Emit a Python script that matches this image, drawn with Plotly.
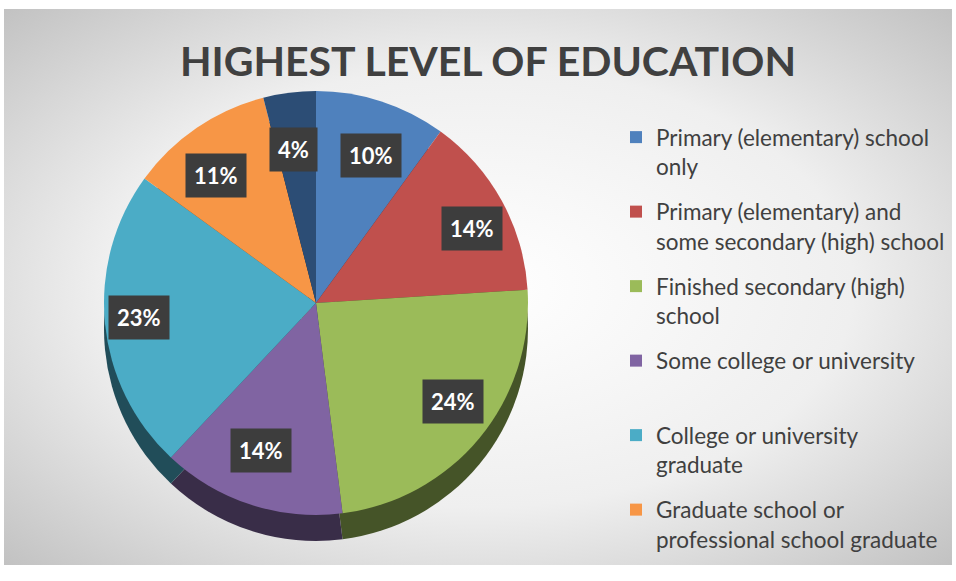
import base64, math
import plotly.graph_objects as go

# ---- data ----
categories = [
    "Primary (elementary) school only",
    "Primary (elementary) and some secondary (high) school",
    "Finished secondary (high) school",
    "Some college or university",
    "College or university graduate",
    "Graduate school or professional school graduate",
    "Other",
]
legend_labels = [
    "Primary (elementary) school<br>only",
    "Primary (elementary) and<br>some secondary (high) school",
    "Finished secondary (high)<br>school",
    "Some college or university<br> ",
    "College or university<br>graduate",
    "Graduate school or<br>professional school graduate",
]
values = [10, 14, 24, 14, 23, 11, 4]
colors = ["#4F81BD", "#C0504D", "#9BBB59", "#8064A2", "#4BACC6", "#F79646", "#2C4D75"]

W, H = 956, 581
ML, MR, MT, MB = 4, 4, 9, 16
PW, PH = W - ML - MR, H - MT - MB

def px_to_paper(x, y):
    return (x - ML) / PW, 1 - (y - MT) / PH

def darker(hexcol, f=0.45):
    h = hexcol.lstrip("#")
    r, g, b = (int(h[i:i + 2], 16) for i in (0, 2, 4))
    return "#%02x%02x%02x" % (int(r * f), int(g * f), int(b * f))

# pie geometry (pixels)
CX, CY, R, DEPTH = 316, 303, 212, 26

def domain(cx, cy, r):
    x0, y1 = px_to_paper(cx - r, cy - r)
    x1, y0 = px_to_paper(cx + r, cy + r)
    return dict(x=[x0, x1], y=[y0, y1])

fig = go.Figure()

# side (depth) of the pie
fig.add_trace(go.Pie(
    labels=categories, values=values, sort=False, direction="clockwise", rotation=0,
    marker=dict(colors=[darker(c) for c in colors], line=dict(width=0)),
    textinfo="none", hoverinfo="skip", showlegend=False,
    domain=domain(CX, CY + DEPTH, R),
))
# top face
fig.add_trace(go.Pie(
    labels=categories, values=values, sort=False, direction="clockwise", rotation=0,
    marker=dict(colors=colors, line=dict(width=0)),
    textinfo="none", showlegend=False,
    domain=domain(CX, CY, R),
))

# legend entries (6 shown as in reference)
for lbl, col in zip(legend_labels, colors[:6]):
    fig.add_trace(go.Scatter(
        x=[None], y=[None], mode="markers", name=lbl, legendgroup=lbl,
        marker=dict(symbol="square", size=12, color=col),
    ))

# percentage labels
total = sum(values)
cum = 0
for v in values:
    mid = (cum + v / 2) / total * 2 * math.pi
    cum += v
    rr = 0.73 * R
    x, y = CX + 1.15 * rr * math.sin(mid), CY - rr * math.cos(mid)
    px, py = px_to_paper(x, y)
    fig.add_annotation(
        x=px, y=py, xref="paper", yref="paper", xanchor="center", yanchor="middle",
        text="<b>%d%%</b>" % round(v / total * 100),
        showarrow=False, font=dict(family="Lato", size=22, color="white"),
        bgcolor="#3d3d3d", borderpad=8,
    )

svg = ('<svg xmlns="http://www.w3.org/2000/svg" width="948" height="556" preserveAspectRatio="none">'
       '<defs><radialGradient id="g" cx="50%" cy="50%" r="72%">'
       '<stop offset="0%" stop-color="#ffffff"/><stop offset="55%" stop-color="#efefef"/>'
       '<stop offset="100%" stop-color="#c0c0c0"/></radialGradient></defs>'
       '<rect width="948" height="556" fill="url(#g)"/></svg>')
src = "data:image/svg+xml;base64," + base64.b64encode(svg.encode()).decode()

lx, ly = px_to_paper(616, 116)
tx, ty = px_to_paper(488, 62)
fig.update_layout(
    width=W, height=H,
    margin=dict(l=ML, r=MR, t=MT, b=MB, autoexpand=False),
    paper_bgcolor="white", plot_bgcolor="rgba(0,0,0,0)",
    images=[dict(source=src, xref="paper", yref="paper", x=0, y=1, sizex=1, sizey=1,
                 sizing="stretch", layer="below", xanchor="left", yanchor="top")],
    title=dict(text="<b>HIGHEST LEVEL OF EDUCATION</b>", x=tx, y=ty, xref="paper", yref="paper",
               xanchor="center", yanchor="middle",
               font=dict(family="Lato", size=41, color="#404040")),
    xaxis=dict(visible=False), yaxis=dict(visible=False),
    legend=dict(x=lx, y=ly, xanchor="left", yanchor="top", bgcolor="rgba(0,0,0,0)",
                font=dict(family="Lato", size=22.5, color="#404040"),
                tracegroupgap=13, valign="top", itemsizing="constant"),
)

fig.write_html("out.html", config={"displayModeBar": False},
               post_script="document.body.style.margin='0px';")
